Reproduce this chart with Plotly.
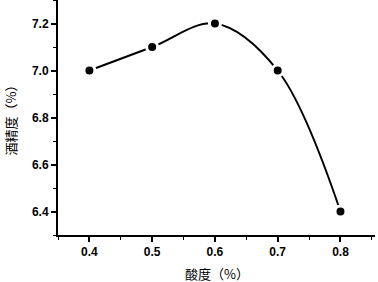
import plotly.graph_objects as go

acidity = [0.4, 0.5, 0.6, 0.7, 0.8]
alcohol = [7.0, 7.1, 7.2, 7.0, 6.4]
x_ticks = [0.4, 0.5, 0.6, 0.7, 0.8]
y_ticks = [6.4, 6.6, 6.8, 7.0, 7.2]
x_title = "酸度（%）"
y_title = "酒精度（%）"

fig = go.Figure()
fig.add_trace(go.Scatter(
    x=acidity, y=alcohol, mode="lines",
    line=dict(color="black", width=2, shape="spline", smoothing=1.0),
    showlegend=False, hoverinfo="skip"))
fig.add_trace(go.Scatter(
    x=acidity, y=alcohol, mode="markers",
    marker=dict(color="black", size=11, line=dict(color="white", width=3)),
    showlegend=False))

tickfont = dict(family="Liberation Sans, Arial", size=12, color="black", weight="bold")
titlefont = dict(family="Noto Sans CJK SC", size=13, color="black")
fig.update_layout(
    width=378, height=282,
    margin=dict(l=58, r=3, t=0, b=47),
    plot_bgcolor="white", paper_bgcolor="white",
    xaxis=dict(range=[0.35, 0.855], tickvals=x_ticks, ticktext=[f"{v:.1f}" for v in x_ticks],
               showgrid=False, zeroline=False, showline=True, linecolor="black", linewidth=2,
               ticks="outside", ticklen=5, tickwidth=1.5, tickcolor="black",
               minor=dict(ticks="outside", ticklen=3, tickwidth=1.2, tickcolor="black", dtick=0.05, tick0=0.35, showgrid=False),
               tickfont=tickfont),
    yaxis=dict(range=[6.3, 7.3], tickvals=y_ticks, ticktext=[f"{v:.1f}" for v in y_ticks],
               showgrid=False, zeroline=False, showline=True, linecolor="black", linewidth=2,
               ticks="outside", ticklen=5, tickwidth=1.5, tickcolor="black",
               minor=dict(ticks="outside", ticklen=3, tickwidth=1.2, tickcolor="black", dtick=0.1, tick0=6.3, showgrid=False),
               tickfont=tickfont),
    annotations=[
        dict(text=x_title, xref="paper", yref="paper", x=0.5, y=0, xanchor="center", yanchor="middle",
             yshift=-38, showarrow=False, font=titlefont),
        dict(text=y_title, xref="paper", yref="paper", x=0, y=0.5, xanchor="center", yanchor="middle",
             xshift=-48, textangle=-90, showarrow=False, font=titlefont),
    ],
)
fig.write_html("out.html", config={"displayModeBar": False},
               post_script="document.body.style.margin='0';document.body.style.overflow='hidden';")
